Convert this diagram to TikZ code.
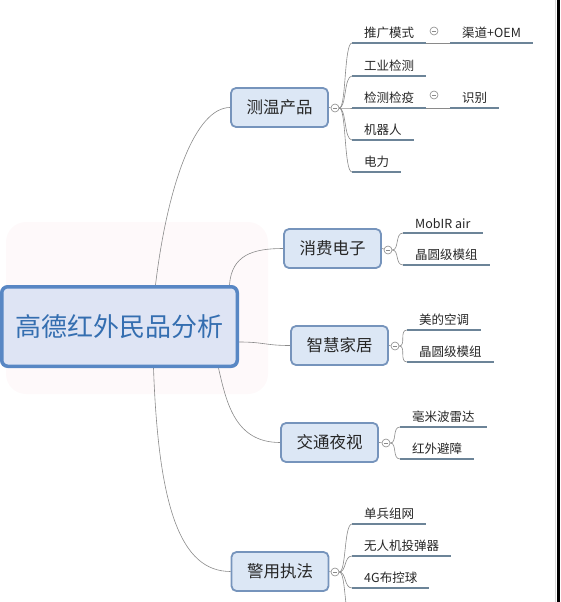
\documentclass[tikz,border=0pt]{standalone}
\usepackage{fontspec}
\setmainfont{Noto Sans CJK SC}
\usepackage{xcolor}
\usetikzlibrary{positioning,backgrounds}

\definecolor{rootline}{RGB}{88,135,196}
\definecolor{rootfill}{RGB}{222,228,244}
\definecolor{roottext}{RGB}{52,110,176}
\definecolor{topicline}{RGB}{118,148,188}
\definecolor{topicfill}{RGB}{220,231,245}
\definecolor{leafline}{RGB}{108,132,152}
\definecolor{linkgrey}{RGB}{138,138,138}
\definecolor{inktext}{RGB}{38,38,38}
\definecolor{glow}{RGB}{254,249,250}

\begin{document}
\begin{tikzpicture}[x=1pt, y=-1pt,
  root/.style={draw=rootline, line width=3.5pt, fill=rootfill, rounded corners=6pt,
               text=roottext, font=\fontsize{26}{30}\selectfont,
               minimum width=235.5pt, minimum height=79.5pt, inner sep=0pt},
  topic/.style={draw=topicline, line width=1.8pt, fill=topicfill, rounded corners=5pt,
                text=inktext, font=\fontsize{16.5}{20}\selectfont,
                minimum width=97pt, minimum height=39pt, inner sep=0pt},
  leaf/.style={anchor=south west, inner xsep=12pt, inner ysep=4.5pt,
               text=inktext, font=\fontsize{12.5}{15}\selectfont},
  fold/.style={circle, draw=linkgrey, fill=white, line width=0.6pt,
               minimum size=8pt, inner sep=0pt,
               path picture={\draw[linkgrey, line width=0.6pt]
                 ([xshift=-2.2pt]path picture bounding box.center) --
                 ([xshift=2.2pt]path picture bounding box.center);}},
  link/.style={draw=linkgrey, line width=0.6pt},
  uline/.style={draw=leafline, line width=2.8pt}]
  \useasboundingbox (0,0) rectangle (560,602);
  \clip (0,0) rectangle (560,602);

  % centre and main topics
  \node[root] (root) at (119.5,326.5) {高德红外民品分析};
  \node[topic] (t1) at (279.5,107.5) {测温产品};
  \node[topic] (t2) at (332.5,248.5) {消费电子};
  \node[topic] (t3) at (339.5,345.5) {智慧家居};
  \node[topic] (t4) at (329.5,442.5) {交通夜视};
  \node[topic] (t5) at (280,571.5) {警用执法};

  % collapse buttons
  \node[fold] (c1) at (335,108) {};
  \node[fold] (c2) at (388,250) {};
  \node[fold] (c3) at (395,346) {};
  \node[fold] (c4) at (386,443) {};
  \node[fold] (c5) at (335,572) {};

  % leaves
  \node[leaf] (a1) at (352,43) {推广模式};
  \node[leaf] (a2) at (352,76) {工业检测};
  \node[leaf] (a3) at (352,108) {检测检疫};
  \node[leaf] (a4) at (352,140) {机器人};
  \node[leaf] (a5) at (352,172) {电力};
  \node[leaf] (b1) at (450,43) {渠道+OEM};
  \node[leaf] (b2) at (450,108) {识别};
  \node[fold] (f1) at (434,31) {};
  \node[fold] (f2) at (434,95) {};
  \node[leaf] (d1) at (403,233) {MobIR air};
  \node[leaf] (d2) at (403,265) {晶圆级模组};
  \node[leaf] (e1) at (407,330) {美的空调};
  \node[leaf] (e2) at (407,362) {晶圆级模组};
  \node[leaf] (g1) at (400,427) {毫米波雷达};
  \node[leaf] (g2) at (400,459) {红外避障};
  \node[leaf] (h1) at (352,524) {单兵组网};
  \node[leaf] (h2) at (352,556) {无人机投弹器};
  \node[leaf] (h3) at (352,588) {4G布控球};
  \coordinate (h4) at (352,622);

  \foreach \n in {a1,a2,a3,a4,a5,b1,b2,d1,d2,e1,e2,g1,g2,h1,h2,h3}
    \draw[uline] (\n.south west) -- (\n.south east);

  \begin{scope}[on background layer]
    \fill[glow, rounded corners=20pt] (6,222) rectangle (268,394);
    % root to topics
    \draw[link] ([xshift=36pt]root.north) .. controls +(12,-100) and +(-35,0) .. (t1.west);
    \draw[link] ([xshift=110pt]root.north) .. controls +(2,-30) and +(-30,0) .. (t2.west);
    \draw[link] ([yshift=-15.5pt]root.east) .. controls +(25,0) and +(-25,0) .. (t3.west);
    \draw[link] ([xshift=99pt]root.south) .. controls +(8,35) and +(-45,0) .. (t4.west);
    \draw[link] ([xshift=34pt]root.south) .. controls +(5,140) and +(-50,0) .. (t5.west);
    % topics to buttons
    \foreach \t/\c in {t1/c1,t2/c2,t3/c3,t4/c4,t5/c5}
      \draw[link] (\t.east) -- (\c);
    % buttons to leaves
    \foreach \c/\l in {c1/a1,c1/a2,c1/a3,c1/a4,c1/a5,c2/d1,c2/d2,c3/e1,c3/e2,
                       c4/g1,c4/g2,c5/h1,c5/h2,c5/h3}
      \draw[link] (\c.east) .. controls +(7,0) and +(-8,0) .. (\l.south west);
    \draw[link] (c5.east) .. controls +(7,0) and +(-8,0) .. (h4);
    \draw[link] (a1.south east) -- (b1.south west);
    \draw[link] (a3.south east) -- (b2.south west);
  \end{scope}

  % window edge
  \draw[black!15, line width=1pt] (555,0) -- (555,602);
  \fill[black] (557,0) rectangle (560,602);
\end{tikzpicture}
\end{document}
